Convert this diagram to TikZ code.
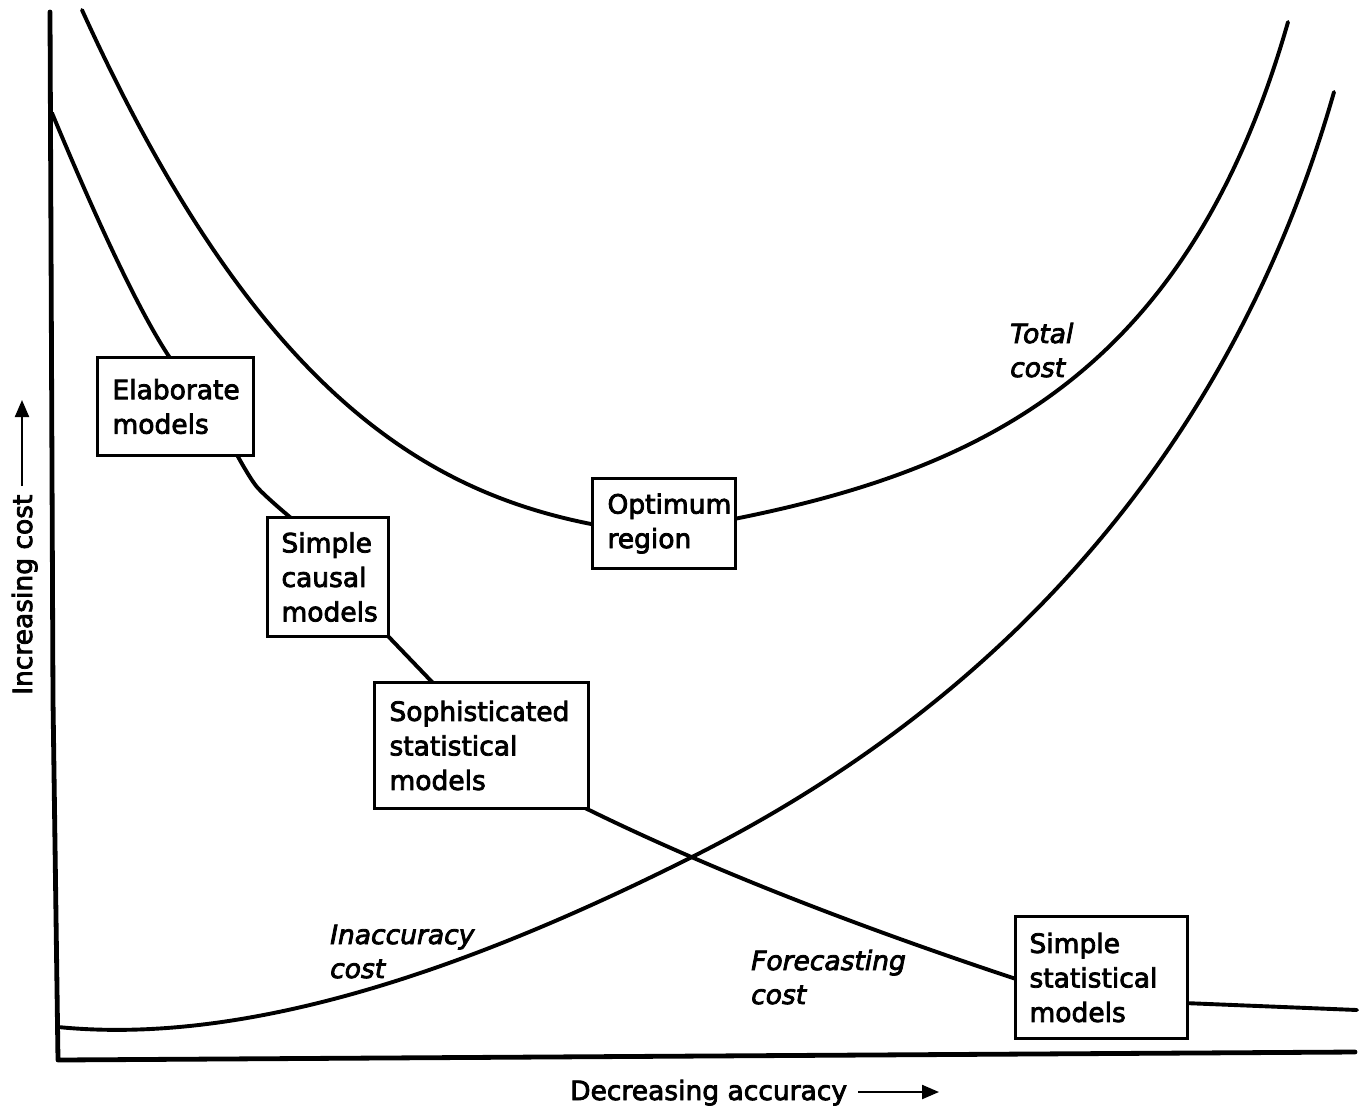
\documentclass[tikz,border=0pt]{standalone}
\usepackage{fontspec}
\setmainfont{DejaVu Sans}
\newfontfamily\boxfont{DejaVu Sans}[FakeBold=3]
\newfontfamily\slantfont{DejaVu Sans Oblique}[FakeBold=3]
\usetikzlibrary{arrows.meta}
\begin{document}
\begin{tikzpicture}[x=1pt,y=-1pt,
  curve/.style={line width=3.9pt, line cap=round, line join=round},
  axisline/.style={line width=4.8pt, line cap=round, line join=round},
  box/.style={draw, line width=3pt, fill=white, inner xsep=15pt, inner ysep=0pt,
    align=left, anchor=north west, font=\boxfont\fontsize{26.5}{34.5}\selectfont},
  lbl/.style={font=\slantfont\fontsize{26.5}{34}\selectfont, align=left, inner sep=0pt, anchor=base west},
  axlbl/.style={font=\boxfont\fontsize{26.5}{32}\selectfont, inner sep=0pt, anchor=base west},
  axarrow/.style={line width=2.2pt, -{Triangle[length=17pt,width=14pt]}}
]
\fill[white] (0,0) rectangle (1364,1114);
\useasboundingbox (0,0) rectangle (1364,1114);

% axes
\coordinate (ytop) at (50,12);
\coordinate (ymid) at (53,700);
\coordinate (origin) at (58,1060);
\coordinate (xend) at (1355,1052);
\draw[axisline] (ytop) -- (ymid) -- (origin) -- (xend);

% total cost
\coordinate (t0) at (82,10);
\coordinate (t1) at (591,524);
\coordinate (t2) at (734,519);
\coordinate (t3) at (1288,22);
\draw[curve] (t0) .. controls (253,386) and (420,490) .. (t1);
\draw[curve] (t2) .. controls (984,469) and (1188,372) .. (t3);

% inaccuracy cost
\coordinate (i0) at (58,1027);
\coordinate (ix) at (688,859);
\coordinate (i1) at (1334,92);
\draw[curve] (i0) .. controls (258,1047) and (488,959) .. (ix)
                  .. controls (888,759) and (1204,547) .. (i1);

% forecasting cost
\coordinate (f0) at (52,113);
\draw[curve] (f0) .. controls (102.4,234) and (141.7,315.6) .. (170,358);
\draw[curve] plot[smooth] coordinates {(236,453) (257,487) (291,518)};
\draw[curve] (386,634) -- (433,683);
\draw[curve] (579,805) .. controls (695.7,863) and (841.3,921) .. (1016,979);
\coordinate (f1) at (1357,1010);
\draw[curve] (1184,1003) -- (f1);

% boxes
\node[box, minimum width=156pt, minimum height=98pt, text width=126pt] (elab) at (96,356) {Elaborate\\models};
\node[box, minimum width=121pt, minimum height=119pt, text width=93pt, inner xsep=14pt] (causal) at (266,516) {Simple\\causal\\models};
\node[box, minimum width=214pt, minimum height=126pt, text width=184pt] (soph) at (373,681) {Sophisticated\\statistical\\models};
\node[box, minimum width=143pt, minimum height=90pt, text width=113pt] (opt) at (591,477) {Optimum\\region};
\node[box, minimum width=172pt, minimum height=122pt, text width=144pt, inner xsep=14pt] (simstat) at (1014,915) {Simple\\statistical\\models};

% curve labels (anchor at baseline of last line)
\node[lbl] (ltotal) at (1010,377) {Total\\cost};
\node[lbl] (linacc) at (330,978) {Inaccuracy\\cost};
\node[lbl] (lfore) at (751,1004) {Forecasting\\cost};

% axis labels
\node[axlbl, rotate=90] (ylbl) at (32,695) {Increasing cost};
\coordinate (yarrS) at (22,486);
\coordinate (yarrE) at (22,400);
\draw[axarrow] (yarrS) -- (yarrE);
\node[axlbl] (xlbl) at (570,1100) {Decreasing accuracy};
\coordinate (xarrS) at (858,1092);
\coordinate (xarrE) at (939,1092);
\draw[axarrow] (xarrS) -- (xarrE);
\end{tikzpicture}
\end{document}
